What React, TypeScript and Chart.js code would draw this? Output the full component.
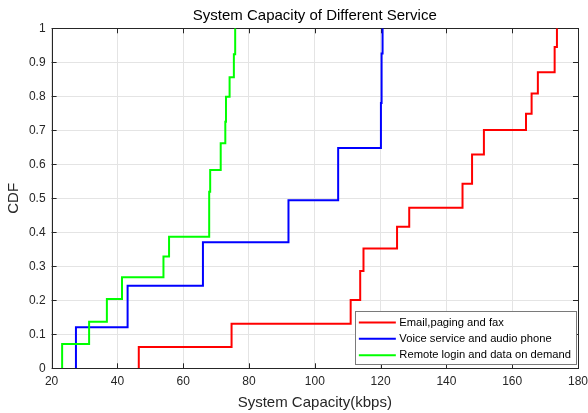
import React, { useEffect, useRef } from 'react';
import { Chart, registerables } from 'chart.js';

Chart.register(...registerables);

const FONT = "'Liberation Sans', Arial, sans-serif";

const titleText = 'System Capacity of Different Service';

// Tick labels
const xTicks = [20, 40, 60, 80, 100, 120, 140, 160, 180];
const yTicks = [0, 0.1, 0.2, 0.3, 0.4, 0.5, 0.6, 0.7, 0.8, 0.9, 1];

// Series names
const seriesNames = [
  'Email,paging and fax',
  'Voice service and audio phone',
  'Remote login and data on demand',
];

// Empirical CDF steps (x = system capacity, y = CDF after the step)
const emailX = [46.5, 46.5, 74.7, 110.9, 113.8, 114.8, 125.0, 128.7, 144.9, 147.8, 151.4, 164.2, 165.9, 167.8, 172.9, 173.6];
const emailY = [0, 0.0625, 0.131, 0.201, 0.286, 0.352, 0.4165, 0.472, 0.543, 0.629, 0.701, 0.749, 0.808, 0.871, 0.945, 1];

const voiceX = [27.4, 27.4, 43.1, 66.0, 92.0, 107.1, 120.1, 120.3, 120.6];
const voiceY = [0, 0.1206, 0.243, 0.3706, 0.494, 0.648, 0.78, 0.926, 1];

const remoteX = [23.2, 23.2, 31.4, 36.8, 41.4, 54.0, 55.7, 67.9, 68.2, 71.4, 72.8, 73.0, 74.1, 75.4, 75.8];
const remoteY = [0, 0.0715, 0.137, 0.204, 0.268, 0.329, 0.387, 0.519, 0.583, 0.662, 0.725, 0.799, 0.856, 0.924, 1];

const colors = ['#ff0000', '#0000ff', '#00ff00'];

const toPoints = (xs: number[], ys: number[]) => xs.map((x, i) => ({ x, y: ys[i] }));

const boxPlugin = {
  id: 'matlabBox',
  beforeDatasetsDraw(chart: any) {
    const { ctx, chartArea } = chart;
    const { left, right, top, bottom } = chartArea;
    const xs = chart.scales.x;
    const ys = chart.scales.y;
    ctx.save();
    ctx.strokeStyle = '#262626';
    ctx.lineWidth = 1;
    ctx.beginPath();
    const tl = 5;
    xTicks.forEach((v) => {
      const px = Math.round(xs.getPixelForValue(v)) + 0.5;
      ctx.moveTo(px, bottom);
      ctx.lineTo(px, bottom - tl);
      ctx.moveTo(px, top);
      ctx.lineTo(px, top + tl);
    });
    yTicks.forEach((v) => {
      const py = Math.round(ys.getPixelForValue(v)) + 0.5;
      ctx.moveTo(left, py);
      ctx.lineTo(left + tl, py);
      ctx.moveTo(right, py);
      ctx.lineTo(right - tl, py);
    });
    ctx.stroke();
    ctx.strokeRect(Math.round(left) + 0.5, Math.round(top) + 0.5, Math.round(right - left), Math.round(bottom - top));
    // title centred over the axes
    ctx.fillStyle = '#000000';
    ctx.font = `15px ${FONT}`;
    ctx.textAlign = 'center';
    ctx.textBaseline = 'alphabetic';
    ctx.fillText(titleText, (left + right) / 2, 19.5);
    ctx.restore();
  },
};

const legendPlugin = {
  id: 'insideLegend',
  afterDatasetsDraw(chart: any) {
    const { ctx, chartArea } = chart;
    const fontSize = 11.2;
    ctx.save();
    ctx.font = `${fontSize}px ${FONT}`;
    const ds = chart.data.datasets;
    let maxW = 0;
    ds.forEach((d: any) => {
      maxW = Math.max(maxW, ctx.measureText(d.label).width);
    });
    const lineLen = 37;
    const padL = 4;
    const gap = 3.5;
    const padR = 5;
    const rowH = 16.3;
    const w = padL + lineLen + gap + maxW + padR;
    const h = rowH * ds.length + 4;
    const x0 = chartArea.right - 2 - w;
    const y0 = chartArea.bottom - 4 - h;
    ctx.fillStyle = '#ffffff';
    ctx.fillRect(x0, y0, w, h);
    ctx.strokeStyle = '#7a7a7a';
    ctx.lineWidth = 1;
    ctx.strokeRect(Math.round(x0) + 0.5, Math.round(y0) + 0.5, Math.round(w), Math.round(h));
    ds.forEach((d: any, i: number) => {
      const cy = y0 + 2 + rowH * (i + 0.5) + 1;
      ctx.strokeStyle = d.borderColor;
      ctx.lineWidth = 2;
      ctx.beginPath();
      ctx.moveTo(x0 + padL, cy);
      ctx.lineTo(x0 + padL + lineLen, cy);
      ctx.stroke();
      ctx.fillStyle = '#000000';
      ctx.textBaseline = 'middle';
      ctx.textAlign = 'left';
      ctx.fillText(d.label, x0 + padL + lineLen + gap, cy);
    });
    ctx.restore();
  },
};

export default function App() {
  const canvasRef = useRef<HTMLCanvasElement | null>(null);

  useEffect(() => {
    document.body.style.margin = '0';
    const canvas = canvasRef.current;
    if (!canvas) return;
    Chart.defaults.font.family = FONT;
    const data = [
      toPoints(emailX, emailY),
      toPoints(voiceX, voiceY),
      toPoints(remoteX, remoteY),
    ];
    const chart = new Chart(canvas, {
      type: 'line',
      data: {
        datasets: seriesNames.map((name, i) => ({
          label: name,
          data: data[i],
          borderColor: colors[i],
          backgroundColor: colors[i],
          borderWidth: 2,
          pointRadius: 0,
          stepped: 'before' as const,
          fill: false,
          tension: 0,
          order: 3 - i,
        })),
      },
      options: {
        animation: false,
        responsive: false,
        devicePixelRatio: 1,
        layout: { padding: { left: 0, right: 10, top: 28.3, bottom: 0 } },
        plugins: {
          legend: { display: false },
          tooltip: { enabled: false },
          title: { display: false },
        },
        scales: {
          x: {
            type: 'linear',
            min: 20,
            max: 180,
            afterBuildTicks: (s: any) => {
              s.ticks = xTicks.map((v) => ({ value: v }));
            },
            afterFit: (s: any) => {
              s.height = 44.7;
              s.paddingLeft = 0;
              s.paddingRight = 0;
            },
            ticks: {
              color: '#262626',
              font: { family: FONT, size: 12 },
              padding: 6,
              maxRotation: 0,
              autoSkip: false,
            },
            grid: { color: '#e4e4e4', lineWidth: 1, drawTicks: false },
            border: { display: false },
            title: {
              display: true,
              text: 'System Capacity(kbps)',
              color: '#262626',
              font: { family: FONT, size: 15 },
              padding: { top: 0, bottom: 1 },
            },
          },
          y: {
            type: 'linear',
            min: 0,
            max: 1,
            afterBuildTicks: (s: any) => {
              s.ticks = yTicks.map((v) => ({ value: v }));
            },
            afterFit: (s: any) => {
              s.width = 51.6;
              s.paddingTop = 0;
              s.paddingBottom = 0;
            },
            ticks: {
              color: '#262626',
              font: { family: FONT, size: 12 },
              padding: 6,
              autoSkip: false,
              callback: (v: any) => String(Math.round(Number(v) * 10) / 10),
            },
            grid: { color: '#e4e4e4', lineWidth: 1, drawTicks: false },
            border: { display: false },
            title: {
              display: true,
              text: 'CDF',
              color: '#262626',
              font: { family: FONT, size: 15 },
              padding: { top: 5, bottom: 0 },
            },
          },
        },
      },
      plugins: [boxPlugin, legendPlugin],
    } as any);
    return () => {
      chart.destroy();
    };
  }, []);

  return (
    <div style={{ position: 'absolute', left: 0, top: 0, width: 588, height: 413, background: '#ffffff' }}>
      <canvas ref={canvasRef} width={588} height={413} style={{ display: 'block' }} />
    </div>
  );
}
